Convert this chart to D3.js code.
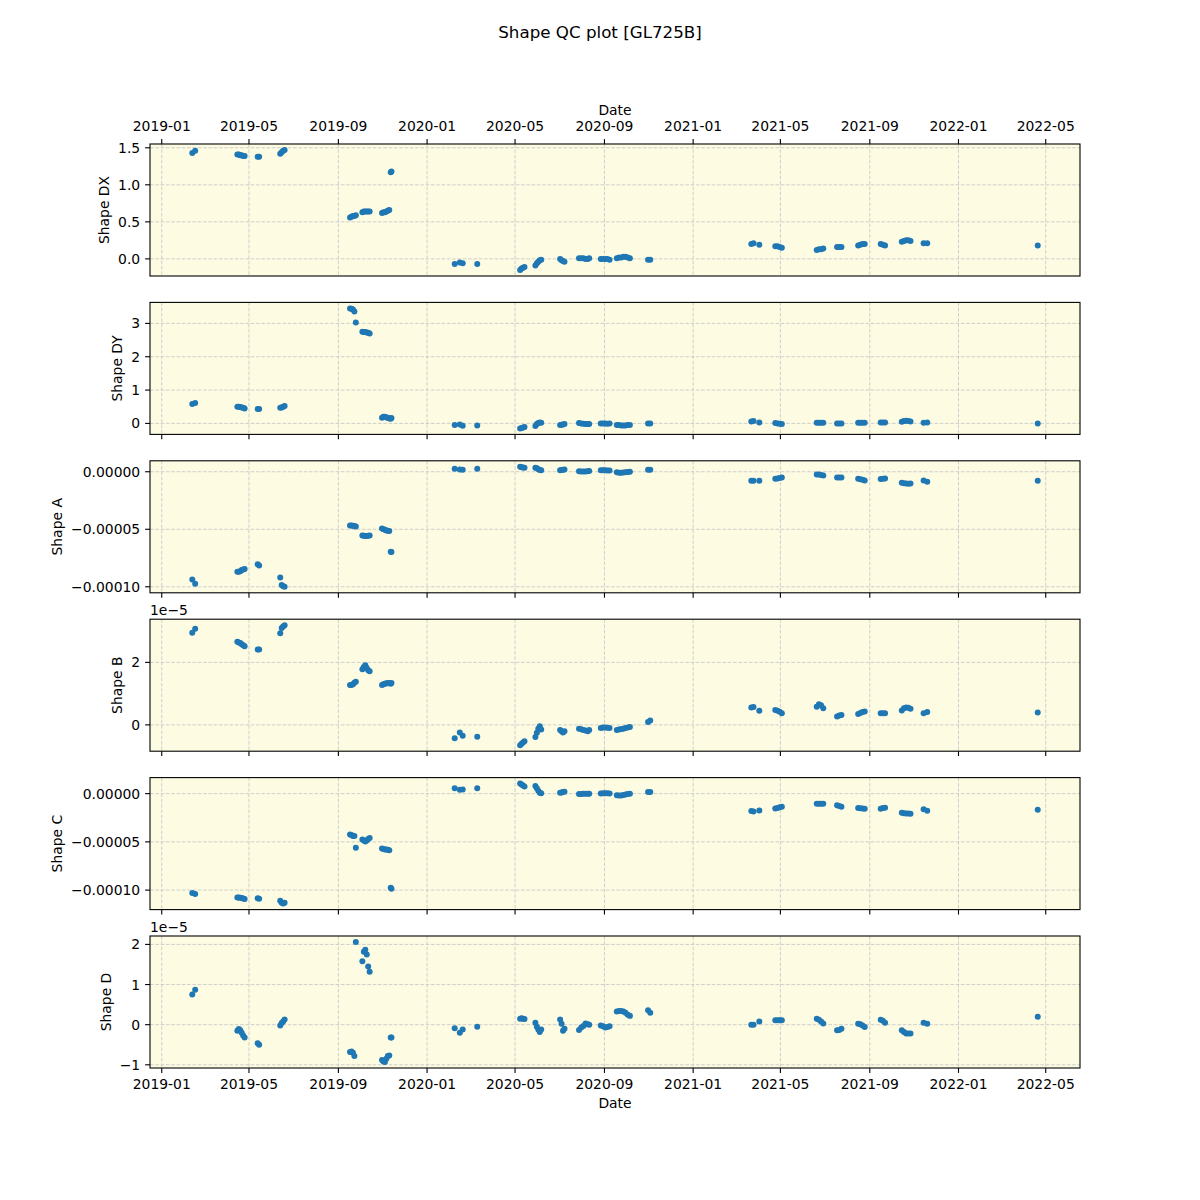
<!DOCTYPE html>
<html><head><meta charset="utf-8">
<script src="https://cdn.jsdelivr.net/npm/d3@7"></script>
<style>
body{margin:0;background:#fff}
svg{display:block}
text{font-family:"DejaVu Sans",sans-serif;fill:#000}
</style>
</head><body>
<svg id="chart" width="1200" height="1200"></svg>
<script>
// ---------------- data ----------------
const dates = [
  "2019-02-12","2019-02-16",
  "2019-04-15","2019-04-17","2019-04-19","2019-04-21","2019-04-23","2019-04-25",
  "2019-05-13","2019-05-15",
  "2019-06-13","2019-06-15","2019-06-17","2019-06-19",
  "2019-09-17","2019-09-19","2019-09-21","2019-09-23","2019-09-25",
  "2019-10-04","2019-10-06","2019-10-08","2019-10-10","2019-10-12","2019-10-14",
  "2019-10-31","2019-11-02","2019-11-04","2019-11-06","2019-11-08","2019-11-10","2019-11-12","2019-11-13",
  "2020-02-08",
  "2020-02-15","2020-02-19",
  "2020-03-10",
  "2020-05-08","2020-05-10","2020-05-12","2020-05-14",
  "2020-05-29","2020-05-31","2020-06-02","2020-06-04","2020-06-06",
  "2020-07-02","2020-07-04","2020-07-06","2020-07-08",
  "2020-07-28","2020-07-31","2020-08-03","2020-08-06","2020-08-09","2020-08-11",
  "2020-08-27","2020-08-30","2020-09-02","2020-09-05","2020-09-08",
  "2020-09-18","2020-09-21","2020-09-24","2020-09-27","2020-09-30","2020-10-03","2020-10-06",
  "2020-10-31","2020-11-03",
  "2021-03-22","2021-03-25","2021-04-02",
  "2021-04-24","2021-04-27","2021-04-30","2021-05-03",
  "2021-06-20","2021-06-23","2021-06-26","2021-06-29",
  "2021-07-18","2021-07-21","2021-07-24",
  "2021-08-16","2021-08-19","2021-08-22","2021-08-25",
  "2021-09-16","2021-09-19","2021-09-22",
  "2021-10-15","2021-10-18","2021-10-21","2021-10-24","2021-10-27",
  "2021-11-14","2021-11-19",
  "2022-04-20"
];

const shapeDX = [
  1.43,1.46,
  1.41,1.41,1.40,1.40,1.39,1.39,
  1.38,1.38,
  1.42,1.44,1.46,1.47,
  0.56,0.57,0.58,0.58,0.59,
  0.63,0.64,0.64,0.64,0.64,0.64,
  0.62,0.63,0.63,0.64,0.65,0.66,1.17,1.18,
  -0.07,
  -0.05,-0.06,
  -0.07,
  -0.15,-0.13,-0.12,-0.11,
  -0.09,-0.06,-0.04,-0.02,-0.01,
  0.00,-0.02,-0.03,-0.04,
  0.01,0.01,0.01,0.00,0.00,0.01,
  0.00,0.00,0.00,0.00,-0.01,
  0.01,0.02,0.02,0.03,0.03,0.02,0.01,
  -0.01,-0.01,
  0.20,0.21,0.19,
  0.17,0.17,0.16,0.15,
  0.12,0.13,0.13,0.14,
  0.16,0.16,0.16,
  0.18,0.19,0.20,0.20,
  0.20,0.19,0.18,
  0.23,0.24,0.25,0.25,0.24,
  0.21,0.21,
  0.18
];

const shapeDY = [
  0.58,0.61,
  0.50,0.50,0.49,0.48,0.47,0.45,
  0.43,0.43,
  0.47,0.48,0.50,0.52,
  3.45,3.44,3.42,3.36,3.03,
  2.75,2.74,2.74,2.73,2.72,2.70,
  0.17,0.20,0.20,0.18,0.17,0.15,0.14,0.16,
  -0.05,
  -0.03,-0.07,
  -0.06,
  -0.15,-0.14,-0.12,-0.11,
  -0.08,-0.02,0.01,0.03,0.02,
  -0.05,-0.04,-0.03,-0.02,
  0.01,0.00,-0.01,-0.02,-0.02,-0.02,
  0.00,0.00,0.00,-0.01,0.00,
  -0.05,-0.05,-0.06,-0.06,-0.06,-0.05,-0.05,
  0.00,0.00,
  0.06,0.07,0.03,
  0.01,0.00,-0.01,-0.02,
  0.02,0.02,0.02,0.02,
  0.00,0.00,0.00,
  0.02,0.02,0.02,0.02,
  0.03,0.03,0.03,
  0.05,0.07,0.08,0.07,0.06,
  0.02,0.03,
  0.00
];

const shapeA = [
  -9.36e-5,-9.74e-5,
  -8.70e-5,-8.70e-5,-8.65e-5,-8.55e-5,-8.50e-5,-8.45e-5,
  -8.05e-5,-8.15e-5,
  -9.20e-5,-9.85e-5,-9.95e-5,-10.00e-5,
  -4.67e-5,-4.68e-5,-4.70e-5,-4.72e-5,-4.75e-5,
  -5.55e-5,-5.57e-5,-5.58e-5,-5.58e-5,-5.57e-5,-5.55e-5,
  -4.93e-5,-5.00e-5,-5.05e-5,-5.10e-5,-5.13e-5,-5.15e-5,-6.95e-5,-6.98e-5,
  0.26e-5,
  0.20e-5,0.18e-5,
  0.26e-5,
  0.43e-5,0.40e-5,0.38e-5,0.35e-5,
  0.35e-5,0.30e-5,0.22e-5,0.16e-5,0.14e-5,
  0.14e-5,0.16e-5,0.18e-5,0.20e-5,
  0.05e-5,0.03e-5,0.03e-5,0.03e-5,0.04e-5,0.06e-5,
  0.12e-5,0.12e-5,0.12e-5,0.10e-5,0.10e-5,
  -0.05e-5,-0.08e-5,-0.09e-5,-0.07e-5,-0.05e-5,-0.02e-5,0.00,
  0.18e-5,0.18e-5,
  -0.79e-5,-0.79e-5,-0.79e-5,
  -0.60e-5,-0.58e-5,-0.55e-5,-0.50e-5,
  -0.23e-5,-0.25e-5,-0.28e-5,-0.32e-5,
  -0.50e-5,-0.50e-5,-0.50e-5,
  -0.60e-5,-0.65e-5,-0.70e-5,-0.76e-5,
  -0.64e-5,-0.60e-5,-0.58e-5,
  -0.96e-5,-1.00e-5,-1.03e-5,-1.05e-5,-1.03e-5,
  -0.76e-5,-0.87e-5,
  -0.79e-5
];

const shapeB = [
  2.95e-5,3.08e-5,
  2.66e-5,2.64e-5,2.62e-5,2.58e-5,2.55e-5,2.52e-5,
  2.41e-5,2.41e-5,
  2.93e-5,3.10e-5,3.15e-5,3.19e-5,
  1.28e-5,1.28e-5,1.30e-5,1.35e-5,1.38e-5,
  1.78e-5,1.85e-5,1.91e-5,1.82e-5,1.75e-5,1.72e-5,
  1.28e-5,1.30e-5,1.32e-5,1.33e-5,1.33e-5,1.34e-5,1.32e-5,1.34e-5,
  -0.43e-5,
  -0.24e-5,-0.35e-5,
  -0.38e-5,
  -0.65e-5,-0.60e-5,-0.56e-5,-0.52e-5,
  -0.39e-5,-0.25e-5,-0.12e-5,-0.04e-5,-0.15e-5,
  -0.16e-5,-0.20e-5,-0.24e-5,-0.20e-5,
  -0.12e-5,-0.14e-5,-0.16e-5,-0.18e-5,-0.20e-5,-0.16e-5,
  -0.10e-5,-0.08e-5,-0.08e-5,-0.09e-5,-0.10e-5,
  -0.16e-5,-0.15e-5,-0.13e-5,-0.12e-5,-0.10e-5,-0.08e-5,-0.07e-5,
  0.09e-5,0.14e-5,
  0.56e-5,0.57e-5,0.45e-5,
  0.48e-5,0.45e-5,0.42e-5,0.37e-5,
  0.58e-5,0.66e-5,0.63e-5,0.53e-5,
  0.27e-5,0.30e-5,0.32e-5,
  0.35e-5,0.38e-5,0.41e-5,0.43e-5,
  0.37e-5,0.37e-5,0.37e-5,
  0.46e-5,0.53e-5,0.56e-5,0.55e-5,0.52e-5,
  0.37e-5,0.41e-5,
  0.40e-5
];

const shapeC = [
  -10.30e-5,-10.40e-5,
  -10.76e-5,-10.78e-5,-10.80e-5,-10.82e-5,-10.88e-5,-10.92e-5,
  -10.85e-5,-10.90e-5,
  -11.10e-5,-11.30e-5,-11.40e-5,-11.30e-5,
  -4.24e-5,-4.30e-5,-4.40e-5,-4.40e-5,-5.60e-5,
  -4.75e-5,-4.85e-5,-4.95e-5,-4.85e-5,-4.70e-5,-4.60e-5,
  -5.70e-5,-5.75e-5,-5.78e-5,-5.80e-5,-5.82e-5,-5.87e-5,-9.75e-5,-9.85e-5,
  0.56e-5,
  0.40e-5,0.42e-5,
  0.56e-5,
  1.04e-5,0.95e-5,0.85e-5,0.75e-5,
  0.80e-5,0.55e-5,0.30e-5,0.10e-5,0.03e-5,
  0.10e-5,0.13e-5,0.17e-5,0.20e-5,
  -0.03e-5,-0.03e-5,-0.02e-5,0.00,0.00,0.00,
  0.02e-5,0.03e-5,0.03e-5,0.03e-5,0.02e-5,
  -0.17e-5,-0.20e-5,-0.20e-5,-0.15e-5,-0.10e-5,-0.05e-5,0.00,
  0.17e-5,0.17e-5,
  -1.80e-5,-1.85e-5,-1.75e-5,
  -1.53e-5,-1.48e-5,-1.42e-5,-1.35e-5,
  -1.04e-5,-1.04e-5,-1.04e-5,-1.04e-5,
  -1.20e-5,-1.28e-5,-1.35e-5,
  -1.50e-5,-1.52e-5,-1.55e-5,-1.56e-5,
  -1.56e-5,-1.50e-5,-1.46e-5,
  -1.98e-5,-2.03e-5,-2.05e-5,-2.07e-5,-2.08e-5,
  -1.63e-5,-1.77e-5,
  -1.67e-5
];

const shapeD = [
  0.75e-5,0.87e-5,
  -0.15e-5,-0.11e-5,-0.14e-5,-0.20e-5,-0.27e-5,-0.32e-5,
  -0.46e-5,-0.50e-5,
  -0.02e-5,0.04e-5,0.08e-5,0.13e-5,
  -0.68e-5,-0.67e-5,-0.70e-5,-0.78e-5,2.06e-5,
  1.58e-5,1.82e-5,1.87e-5,1.75e-5,1.45e-5,1.32e-5,
  -0.88e-5,-0.92e-5,-0.93e-5,-0.85e-5,-0.78e-5,-0.77e-5,-0.32e-5,-0.32e-5,
  -0.09e-5,
  -0.20e-5,-0.12e-5,
  -0.05e-5,
  0.15e-5,0.16e-5,0.15e-5,0.14e-5,
  0.05e-5,-0.05e-5,-0.12e-5,-0.18e-5,-0.12e-5,
  0.13e-5,0.02e-5,-0.15e-5,-0.10e-5,
  -0.13e-5,-0.07e-5,-0.03e-5,0.03e-5,0.01e-5,0.00,
  -0.02e-5,-0.04e-5,-0.07e-5,-0.06e-5,-0.04e-5,
  0.33e-5,0.34e-5,0.34e-5,0.33e-5,0.30e-5,0.25e-5,0.22e-5,
  0.36e-5,0.30e-5,
  0.00,0.00,0.08e-5,
  0.11e-5,0.11e-5,0.11e-5,0.11e-5,
  0.15e-5,0.12e-5,0.08e-5,0.03e-5,
  -0.14e-5,-0.13e-5,-0.10e-5,
  0.02e-5,0.01e-5,-0.02e-5,-0.06e-5,
  0.12e-5,0.10e-5,0.05e-5,
  -0.14e-5,-0.18e-5,-0.22e-5,-0.22e-5,-0.22e-5,
  0.05e-5,0.02e-5,
  0.20e-5
];

const xTickLabels = ["2019-01","2019-05","2019-09","2020-01","2020-05","2020-09",
                     "2021-01","2021-05","2021-09","2022-01","2022-05"];

const dxTicks = [0, 0.5, 1.0, 1.5];        const dxTickLabels = ["0.0","0.5","1.0","1.5"];
const dyTicks = [0, 1, 2, 3];              const dyTickLabels = ["0","1","2","3"];
const aTicks  = [0, -5e-5, -1e-4];         const aTickLabels  = ["0.00000","\u22120.00005","\u22120.00010"];
const bTicks  = [0, 2e-5];                 const bTickLabels  = ["0","2"];
const cTicks  = [0, -5e-5, -1e-4];         const cTickLabels  = ["0.00000","\u22120.00005","\u22120.00010"];
const dTicks  = [-1e-5, 0, 1e-5, 2e-5];    const dTickLabels  = ["\u22121","0","1","2"];

const panelNames = ["Shape DX","Shape DY","Shape A","Shape B","Shape C","Shape D"];
const titleText = "Shape QC plot [GL725B]";

// ---------------- layout ----------------
const L = 150, R = 1080, T = 144, B = 1068, N = 6, HSPACE = 0.2;
const PH = (B - T) / (N + (N - 1) * HSPACE), GAP = PH * HSPACE;
const FS = 13.9, TICK = 4.9, PAD = 4.9;
const C0 = "#1f77b4", BG = "#fdfce3", GRID = "#c9c9c9";

const panels = [
  {name: panelNames[0], values: shapeDX, ticks: dxTicks, labels: dxTickLabels, offset: null},
  {name: panelNames[1], values: shapeDY, ticks: dyTicks, labels: dyTickLabels, offset: null},
  {name: panelNames[2], values: shapeA,  ticks: aTicks,  labels: aTickLabels,  offset: null},
  {name: panelNames[3], values: shapeB,  ticks: bTicks,  labels: bTickLabels,  offset: "1e\u22125"},
  {name: panelNames[4], values: shapeC,  ticks: cTicks,  labels: cTickLabels,  offset: null},
  {name: panelNames[5], values: shapeD,  ticks: dTicks,  labels: dTickLabels,  offset: "1e\u22125"}
];

const svg = d3.select("#chart");
svg.append("rect").attr("width", 1200).attr("height", 1200).attr("fill", "#fff");

const parse = d3.utcParse("%Y-%m-%d");
const parseM = d3.utcParse("%Y-%m");
const xDates = dates.map(parse);
const xExt = d3.extent(xDates);
const xSpan = xExt[1] - xExt[0];
const x = d3.scaleUtc()
  .domain([new Date(+xExt[0] - 0.05 * xSpan), new Date(+xExt[1] + 0.05 * xSpan)])
  .range([L, R]);
const xTicks = xTickLabels.map(parseM);

svg.append("text").attr("x", 600).attr("y", 38).attr("text-anchor", "middle")
  .style("font-size", "16.7px").text(titleText);

panels.forEach((p, i) => {
  const top = T + i * (PH + GAP), bot = top + PH;
  const ext = d3.extent(p.values);
  const sp = ext[1] - ext[0];
  const y = d3.scaleLinear().domain([ext[0] - 0.05 * sp, ext[1] + 0.05 * sp]).range([bot, top]);
  const g = svg.append("g");

  g.append("rect").attr("x", L).attr("y", top).attr("width", R - L).attr("height", PH).attr("fill", BG);

  const clipId = "clip" + i;
  svg.append("clipPath").attr("id", clipId).append("rect")
    .attr("x", L).attr("y", top).attr("width", R - L).attr("height", PH);

  // grid
  const grid = g.append("g").attr("stroke", GRID).attr("stroke-width", 0.9)
    .attr("stroke-dasharray", "3.7,1.6").attr("fill", "none");
  xTicks.forEach(t => grid.append("line").attr("x1", x(t)).attr("x2", x(t)).attr("y1", top).attr("y2", bot));
  p.ticks.forEach(t => grid.append("line").attr("x1", L).attr("x2", R).attr("y1", y(t)).attr("y2", y(t)));

  // points
  g.append("g").attr("clip-path", `url(#${clipId})`)
    .selectAll("circle").data(p.values).join("circle")
    .attr("cx", (d, k) => x(xDates[k])).attr("cy", d => y(d))
    .attr("r", 3.0).attr("fill", C0);

  // frame
  g.append("rect").attr("x", L).attr("y", top).attr("width", R - L).attr("height", PH)
    .attr("fill", "none").attr("stroke", "#000").attr("stroke-width", 1.1);

  // y ticks
  let maxW = 0;
  p.ticks.forEach((t, k) => {
    g.append("line").attr("x1", L - TICK).attr("x2", L).attr("y1", y(t)).attr("y2", y(t))
      .attr("stroke", "#000").attr("stroke-width", 1.1);
    const tx = g.append("text").attr("x", L - TICK - PAD).attr("y", y(t)).attr("dy", "0.36em")
      .attr("text-anchor", "end").style("font-size", FS + "px").text(p.labels[k]);
    maxW = Math.max(maxW, tx.node().getComputedTextLength());
  });
  const edge = L - TICK - PAD - maxW - 5.56;
  const bx = edge - 3.3, cy = (top + bot) / 2;
  g.append("text").attr("transform", `translate(${bx},${cy}) rotate(-90)`)
    .attr("text-anchor", "middle").style("font-size", FS + "px").text(p.name);

  if (p.offset) {
    g.append("text").attr("x", L).attr("y", top - 4).style("font-size", FS + "px").text(p.offset);
  }

  // x ticks
  const xt = g.append("g").attr("stroke", "#000").attr("stroke-width", 1.1);
  xTicks.forEach((t, k) => {
    if (i === 0) {
      xt.append("line").attr("x1", x(t)).attr("x2", x(t)).attr("y1", top - TICK).attr("y2", top);
      g.append("text").attr("x", x(t)).attr("y", top - TICK - PAD - 3.3).attr("text-anchor", "middle")
        .style("font-size", FS + "px").text(xTickLabels[k]);
    } else {
      xt.append("line").attr("x1", x(t)).attr("x2", x(t)).attr("y1", bot).attr("y2", bot + TICK);
      if (i === N - 1) {
        g.append("text").attr("x", x(t)).attr("y", bot + TICK + PAD + 10.7).attr("text-anchor", "middle")
          .style("font-size", FS + "px").text(xTickLabels[k]);
      }
    }
  });
  if (i === 0) {
    g.append("text").attr("x", (L + R) / 2).attr("y", 115).attr("text-anchor", "middle")
      .style("font-size", FS + "px").text("Date");
  }
  if (i === N - 1) {
    g.append("text").attr("x", (L + R) / 2).attr("y", 1108).attr("text-anchor", "middle")
      .style("font-size", FS + "px").text("Date");
  }
});
</script>
</body></html>
